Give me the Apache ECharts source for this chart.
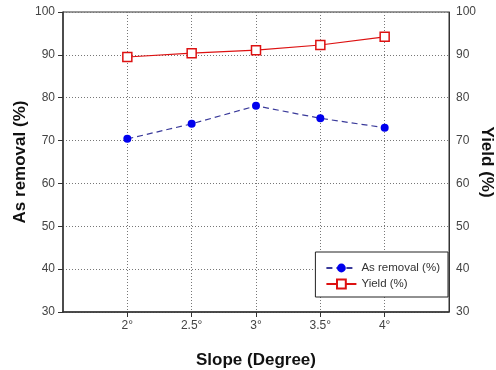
<!DOCTYPE html>
<html>
<head>
<meta charset="utf-8">
<script src="https://cdn.jsdelivr.net/npm/echarts@6/dist/echarts.min.js"></script>
<style>
  html, body { margin: 0; padding: 0; background: #fff; }
  #main { width: 496px; height: 370px; }
</style>
</head>
<body>
<div id="main"></div>
<script>
const slopes = [2, 2.5, 3, 3.5, 4];
const asRemoval = [70.4, 73.9, 78.1, 75.2, 73.0];
const yieldPct = [89.5, 90.4, 91.1, 92.3, 94.2];
const yTicks = [30, 40, 50, 60, 70, 80, 90, 100];

const chart = echarts.init(document.getElementById("main"));

const pairs = (vals) => slopes.map((s, i) => [s, vals[i]]);

const tickText = { color: "#444", fontSize: 12, fontFamily: "Liberation Sans, Arial" };
const titleText = { color: "#111", fontSize: 17, fontWeight: "bold", fontFamily: "Liberation Sans, Arial" };

chart.setOption({
    animation: false,
    grid: {
        left: 63, right: 47, top: 12, bottom: 58,
        outerBoundsMode: "none",
        show: true, borderColor: "#333", borderWidth: 1
    },
    xAxis: {
        type: "value",
        min: 1.5,
        max: 4.5,
        name: "Slope (Degree)",
        nameLocation: "middle",
        nameGap: 40,
        nameMoveOverlap: false,
        nameTextStyle: titleText,
        axisLine: { lineStyle: { color: "#333", width: 1.5 } },
        axisTick: { show: true, customValues: slopes, length: 5, lineStyle: { color: "#333" } },
        axisLabel: { customValues: slopes, formatter: (v) => v + "°", margin: 8, ...tickText },
        splitLine: { show: true, lineStyle: { color: "#777", type: [1, 2] } }
    },
    yAxis: [
        {
            type: "value",
            min: 30,
            max: 100,
            interval: 10,
            name: "As removal (%)",
            nameLocation: "middle",
            nameGap: 34,
            nameMoveOverlap: false,
            nameTextStyle: titleText,
            axisLine: { show: true, lineStyle: { color: "#333", width: 1.5 } },
            axisTick: { show: true, length: 5, lineStyle: { color: "#333" } },
            axisLabel: { margin: 8, ...tickText },
            splitLine: { show: true, lineStyle: { color: "#777", type: [1, 2] } }
        },
        {
            type: "value",
            min: 30,
            max: 100,
            interval: 10,
            position: "right",
            name: "Yield (%)",
            nameLocation: "middle",
            nameGap: 29,
            nameRotate: -90,
            nameMoveOverlap: false,
            nameTextStyle: titleText,
            axisLine: { show: true, lineStyle: { color: "#333", width: 1 } },
            axisTick: { show: false },
            axisLabel: { margin: 7, ...tickText },
            splitLine: { show: false }
        }
    ],
    legend: {
        right: 48,
        bottom: 73,
        orient: "vertical",
        itemGap: 4,
        itemWidth: 30,
        itemHeight: 11,
        padding: [10, 8, 7, 10],
        borderColor: "#222",
        borderWidth: 1,
        backgroundColor: "#fff",
        textStyle: { color: "#333", fontSize: 11.5, fontFamily: "Liberation Sans, Arial" },
        data: ["As removal (%)", "Yield (%)"]
    },
    series: [
        {
            name: "As removal (%)",
            type: "line",
            yAxisIndex: 0,
            data: pairs(asRemoval),
            symbol: "circle",
            symbolSize: 8,
            itemStyle: { color: "#0000ee" },
            lineStyle: { color: "#3a3a9a", width: 1.2, type: [6, 4] }
        },
        {
            name: "Yield (%)",
            type: "line",
            yAxisIndex: 1,
            data: pairs(yieldPct),
            symbol: "rect",
            symbolSize: 9,
            itemStyle: { color: "#fff", borderColor: "#dd1111", borderWidth: 1.5 },
            lineStyle: { color: "#dd1111", width: 1.2 }
        }
    ]
});
</script>
</body>
</html>
